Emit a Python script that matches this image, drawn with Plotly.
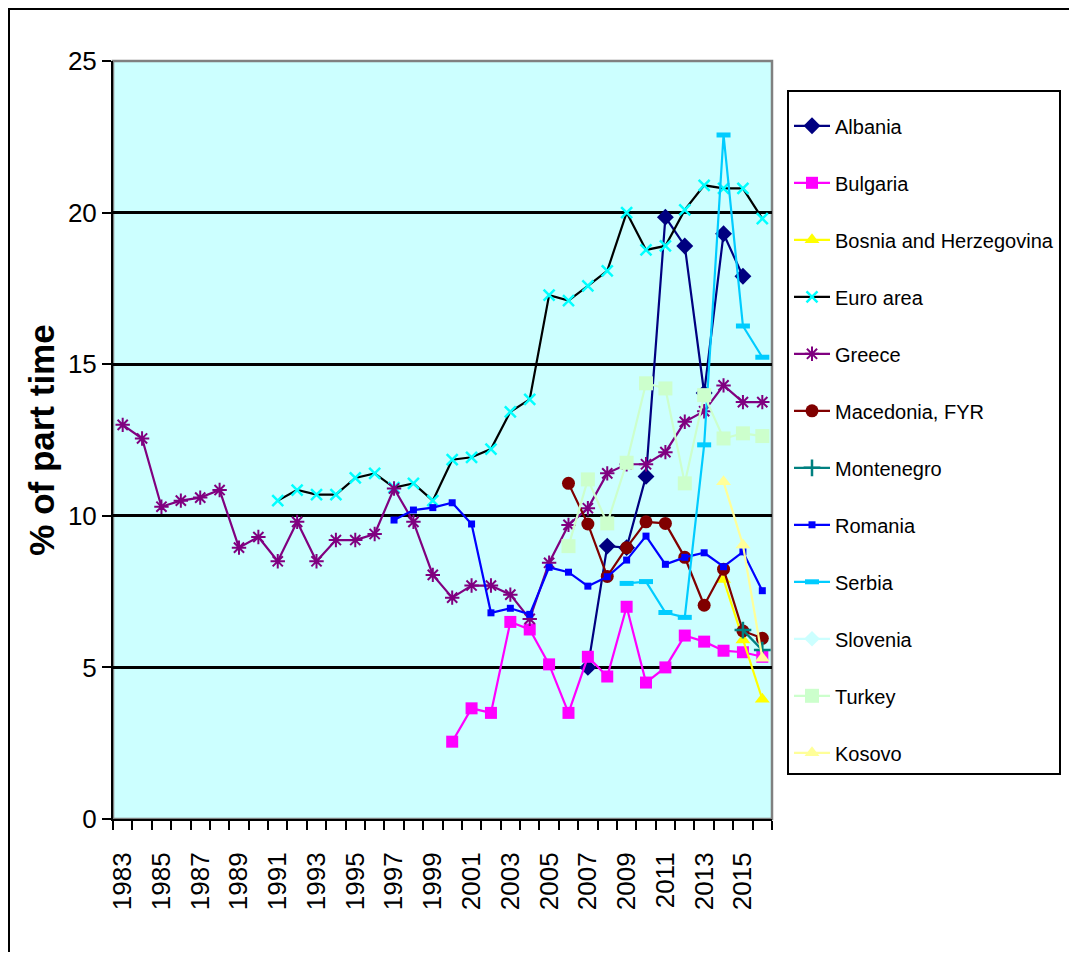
import plotly.graph_objects as go

years = list(range(1983, 2017))

def pad(start, vals):
    out = [None] * len(years)
    i0 = start - years[0]
    for k, v in enumerate(vals):
        out[i0 + k] = v
    return out

albania = pad(2007, [5.0, 9.0, 8.95, 11.3, 19.85, 18.9, 14.05, 19.3, 17.9])
bulgaria = pad(2000, [2.55, 3.65, 3.5, 6.5, 6.25, 5.1, 3.5, 5.35, 4.7, 7.0,
                      4.5, 5.0, 6.05, 5.85, 5.55, 5.5, 5.35])
bosnia = pad(2014, [7.9, 5.9, 3.95])
euro_area = pad(1991, [10.5, 10.85, 10.7, 10.7, 11.25, 11.4, 10.93, 11.07, 10.5, 11.85,
                       11.93, 12.2, 13.43, 13.84, 17.28, 17.1, 17.58, 18.08, 20.0, 18.77,
                       18.9, 20.09, 20.9, 20.8, 20.8, 19.8])
greece = pad(1983, [13.0, 12.55, 10.3, 10.5, 10.6, 10.85, 8.95, 9.3, 8.5, 9.8,
                    8.5, 9.2, 9.2, 9.4, 10.9, 9.8, 8.05, 7.3, 7.7, 7.7,
                    7.4, 6.6, 8.45, 9.7, 10.25, 11.4, 11.7, 11.7, 12.1, 13.1,
                    13.45, 14.3, 13.75, 13.75])
macedonia = pad(2006, [11.07, 9.73, 8.0, 8.95, 9.8, 9.75, 8.63, 7.05, 8.24, 6.2, 5.96])
montenegro = pad(2015, [6.23, 5.57])
romania = pad(1997, [9.86, 10.19, 10.27, 10.43, 9.73, 6.8, 6.95, 6.75, 8.3, 8.14,
                     7.68, 7.99, 8.54, 9.33, 8.4, 8.63, 8.78, 8.32, 8.81, 7.53])
serbia = pad(2009, [7.77, 7.83, 6.81, 6.65, 12.34, 22.56, 16.26, 15.23])
slovenia = pad(2016, [])
turkey = pad(2006, [9.0, 11.2, 9.75, 11.75, 14.37, 14.2, 11.07, 13.98, 12.55, 12.72, 12.63])
kosovo = pad(2014, [11.12, 9.04, 5.3])

x_ticks = list(range(1983, 2016, 2))

series = [
    ("Albania", albania, "#000080", dict(symbol="diamond", size=13, color="#000080")),
    ("Bulgaria", bulgaria, "#FF00FF", dict(symbol="square", size=12, color="#FF00FF")),
    ("Bosnia and Herzegovina", bosnia, "#FFFF00", dict(symbol="triangle-up", size=13, color="#FFFF00")),
    ("Euro area", euro_area, "#000000", dict(symbol="x-thin", size=11, color="#00FFFF",
                                              line=dict(color="#00FFFF", width=2.5))),
    ("Greece", greece, "#800080", dict(symbol="asterisk", size=12, color="#800080",
                                        line=dict(color="#800080", width=2))),
    ("Macedonia, FYR", macedonia, "#800000", dict(symbol="circle", size=13, color="#800000")),
    ("Montenegro", montenegro, "#008080", dict(symbol="cross-thin", size=12, color="#008080",
                                                line=dict(color="#008080", width=2.5))),
    ("Romania", romania, "#0000FF", dict(symbol="square", size=7, color="#0000FF")),
    ("Serbia", serbia, "#00CCFF", dict(symbol="line-ew", size=10, color="#00CCFF",
                                        line=dict(color="#00CCFF", width=5))),
    ("Slovenia", slovenia, "#CCFFFF", dict(symbol="diamond", size=12, color="#CCFFFF")),
    ("Turkey", turkey, "#CCFFCC", dict(symbol="square", size=14, color="#CCFFCC")),
    ("Kosovo", kosovo, "#FFFF99", dict(symbol="triangle-up", size=13, color="#FFFF99")),
]

fig = go.Figure()
for name, vals, col, mk in series:
    fig.add_trace(go.Scatter(
        x=years, y=vals, name=name, mode="lines+markers",
        line=dict(color=col, width=2.2), marker=mk,
        legendgroup=name, connectgaps=False,
    ))

# page body has an 8px margin: work in figure coordinates (page px - 8)
OFF = 8
W, H = 1077 - OFF, 960 - 2 * OFF
L = 113 - OFF
T = 61 - OFF
R = W - (772 - OFF)
B = H - (819 - OFF)
pw, ph = W - L - R, H - T - B

def px_x(p):
    return (p - OFF - L) / pw

def px_y(p):
    return (H - B - (p - OFF)) / ph

fig.update_layout(
    width=W, height=H,
    margin=dict(l=L, r=R, t=T, b=B),
    paper_bgcolor="white",
    plot_bgcolor="#CCFFFF",
    font=dict(family="Liberation Sans, Arial", color="black"),
    showlegend=True,
    legend=dict(
        x=px_x(787), y=px_y(90), xanchor="left", yanchor="top",
        bordercolor="black", borderwidth=2, bgcolor="white",
        font=dict(family="Liberation Sans, Arial", size=20),
        tracegroupgap=28, itemwidth=36,
        title=dict(text="&nbsp;", font=dict(size=11)),
    ),
    xaxis=dict(
        range=[1982.5, 2016.5],
        tickmode="array", tickvals=x_ticks, ticktext=[str(v) for v in x_ticks],
        tickangle=-90, tickfont=dict(size=26),
        ticks="outside", ticklen=21, tickcolor="rgba(0,0,0,0)",
        minor=dict(tickmode="array", tickvals=[1982.5 + k for k in range(35)],
                   ticks="outside", ticklen=9, tickwidth=1.5, tickcolor="black",
                   showgrid=False),
        showgrid=False, zeroline=False,
        showline=True, linecolor="black", linewidth=2,
    ),
    yaxis=dict(
        range=[0, 25], tickmode="array", tickvals=[0, 5, 10, 15, 20, 25],
        tickfont=dict(size=26),
        ticks="outside", ticklen=9, tickwidth=1.5, tickcolor="black",
        showgrid=True, gridcolor="black", gridwidth=2.5,
        zeroline=False, showline=True, linecolor="black", linewidth=2,
        title=dict(text="<b>% of part time</b>", font=dict(size=35), standoff=3),
    ),
    shapes=[
        dict(type="rect", xref="paper", yref="paper", x0=0, x1=1, y0=0, y1=1,
             line=dict(color="#808080", width=2.5), layer="below"),
        dict(type="rect", xref="paper", yref="paper",
             x0=px_x(9), x1=px_x(1076), y0=px_y(9), y1=px_y(1000),
             line=dict(color="black", width=2), fillcolor="rgba(0,0,0,0)"),
    ],
)

fig.write_html("out.html")
